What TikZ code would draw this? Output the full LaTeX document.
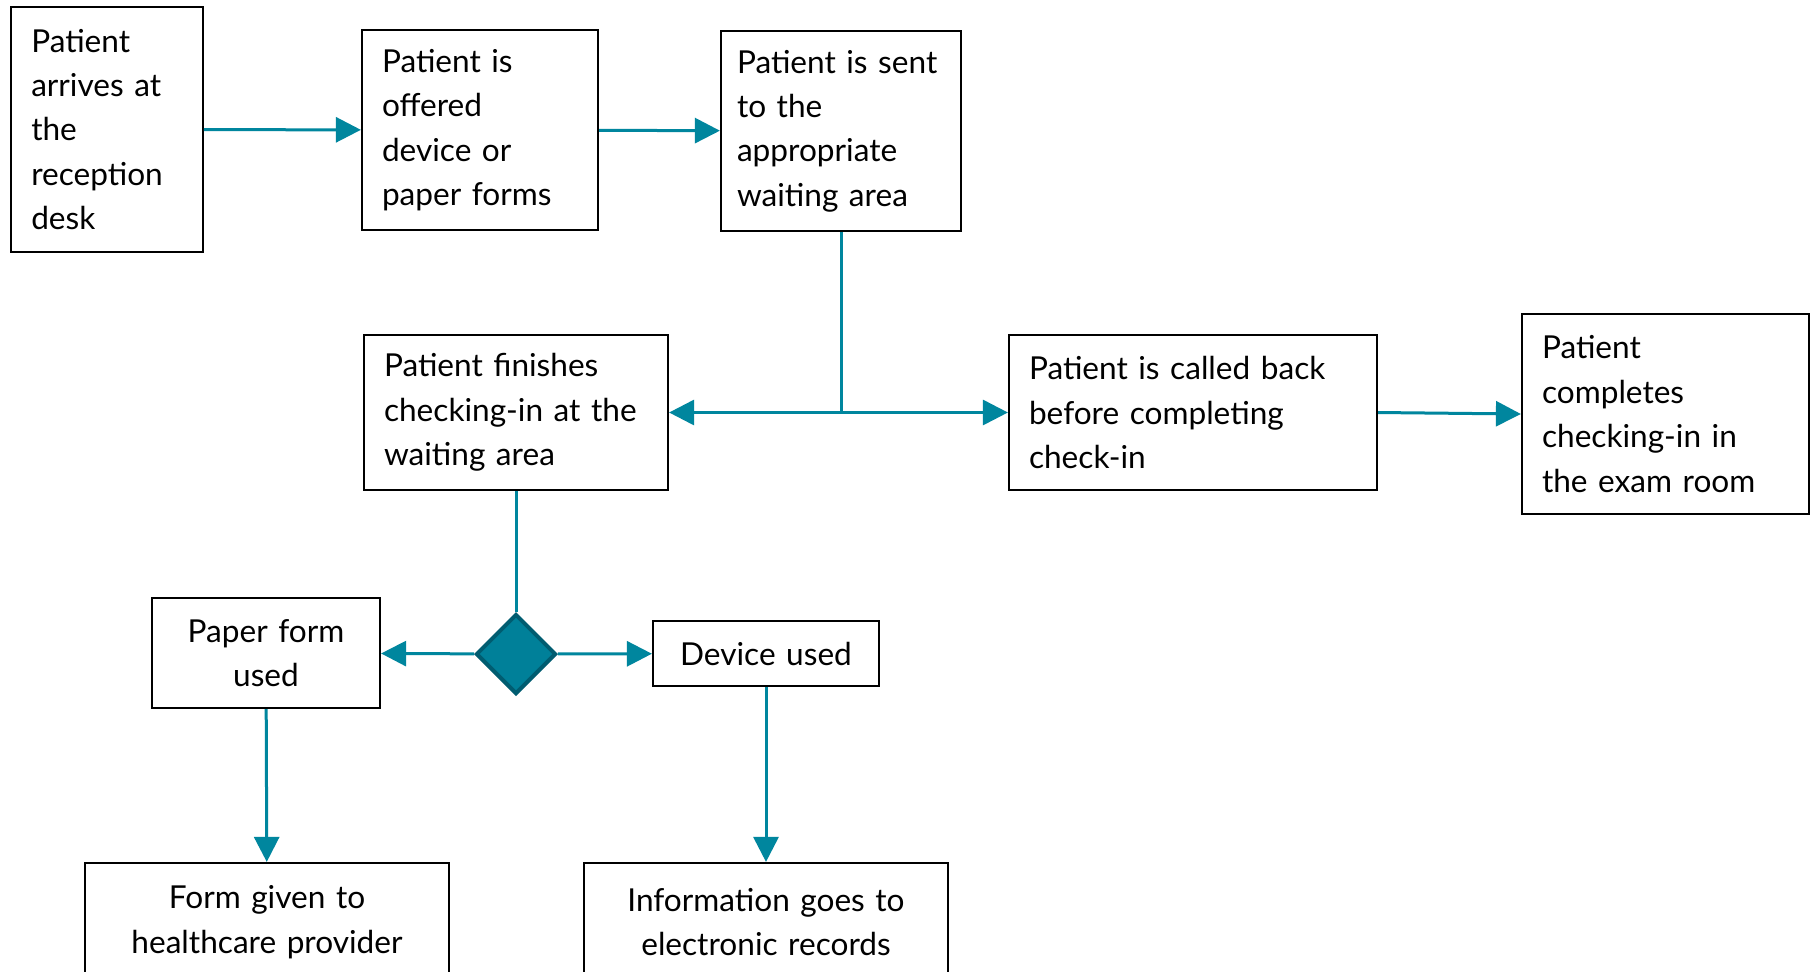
\documentclass[tikz,border=0pt]{standalone}
\usepackage{fontspec}
\setmainfont{Lato}
\usetikzlibrary{arrows.meta,shapes.geometric}
\definecolor{flowteal}{RGB}{0,134,158}
\definecolor{diamfill}{RGB}{0,128,153}
\definecolor{diamedge}{RGB}{0,92,112}
\tikzset{
    stepbox/.style={draw=black, line width=1.1pt, inner xsep=10pt, inner ysep=0pt,
        align=left, font=\fontsize{15.8pt}{22.2pt}\selectfont},
    midbox/.style={stepbox, align=center},
    flow/.style={draw=flowteal, line width=1.5pt, -{Triangle[length=12.5pt,width=12.5pt]}},
    flowline/.style={draw=flowteal, line width=1.5pt}
}

\begin{document}
\begin{tikzpicture}[x=0.5pt, y=-0.5pt]
      \clip (0,0) rectangle (1811,971);
      \fill[white] (0,0) rectangle (1811,971);
      % top row
      \node[stepbox, text width=75.75pt, minimum height=122.5pt] (arrive) at (107,129.5)
        {Patient\\arrives at\\the\\reception\\desk};
      \node[stepbox, text width=98pt, minimum height=100pt] (offer) at (480,130)
        {Patient is\\offered\\device or\\paper forms};
      \node[stepbox, inner xsep=8pt, text width=104pt, minimum height=100pt] (sent) at (841,131)
        {Patient is sent\\to the\\appropriate\\waiting area};
      % middle row
      \node[stepbox, text width=132pt, minimum height=77.5pt] (finish) at (516,412.5)
        {Patient finishes\\checking-in at the\\waiting area};
      \node[stepbox, text width=164pt, minimum height=77.5pt] (called) at (1193,412.5)
        {Patient is called back\\before completing\\check-in};
      \node[stepbox, text width=123.5pt, minimum height=100pt] (exam) at (1665.5,414)
        {Patient\\completes\\checking-in in\\the exam room};
      \coordinate (split) at (841,412.5);
      % decision
      \node[diamond, draw=diamedge, fill=diamfill, line width=2pt, inner sep=0pt,
        minimum width=40pt, minimum height=40pt] (choice) at (516,654) {};
      \node[midbox, text width=94pt, minimum height=55pt] (paper) at (266,653)
        {Paper form\\used};
      \node[midbox, text width=93pt, minimum height=32.5pt] (device) at (766,653.5)
        {Device used};
      % bottom row
      \node[midbox, text width=162pt, minimum height=59pt] (form) at (267,922)
        {Form given to\\healthcare provider};
      \node[midbox, text width=162pt, minimum height=59pt] (records) at (766,922)
        {Information goes to\\electronic records};

      \draw[flow] (arrive) -- (offer);
      \draw[flow] (offer) -- (sent);
      \draw[flowline] (sent) -- (split);
      \draw[flow] (split) -- (finish);
      \draw[flow] (split) -- (called);
      \draw[flow] (called.east) -- (exam.west);
      \draw[flowline] (finish) -- (choice);
      \draw[flow] (choice) -- (paper);
      \draw[flow] (choice) -- (device);
      \draw[flow] (paper) -- (form);
      \draw[flow] (device) -- (records);
    \end{tikzpicture}
\end{document}
